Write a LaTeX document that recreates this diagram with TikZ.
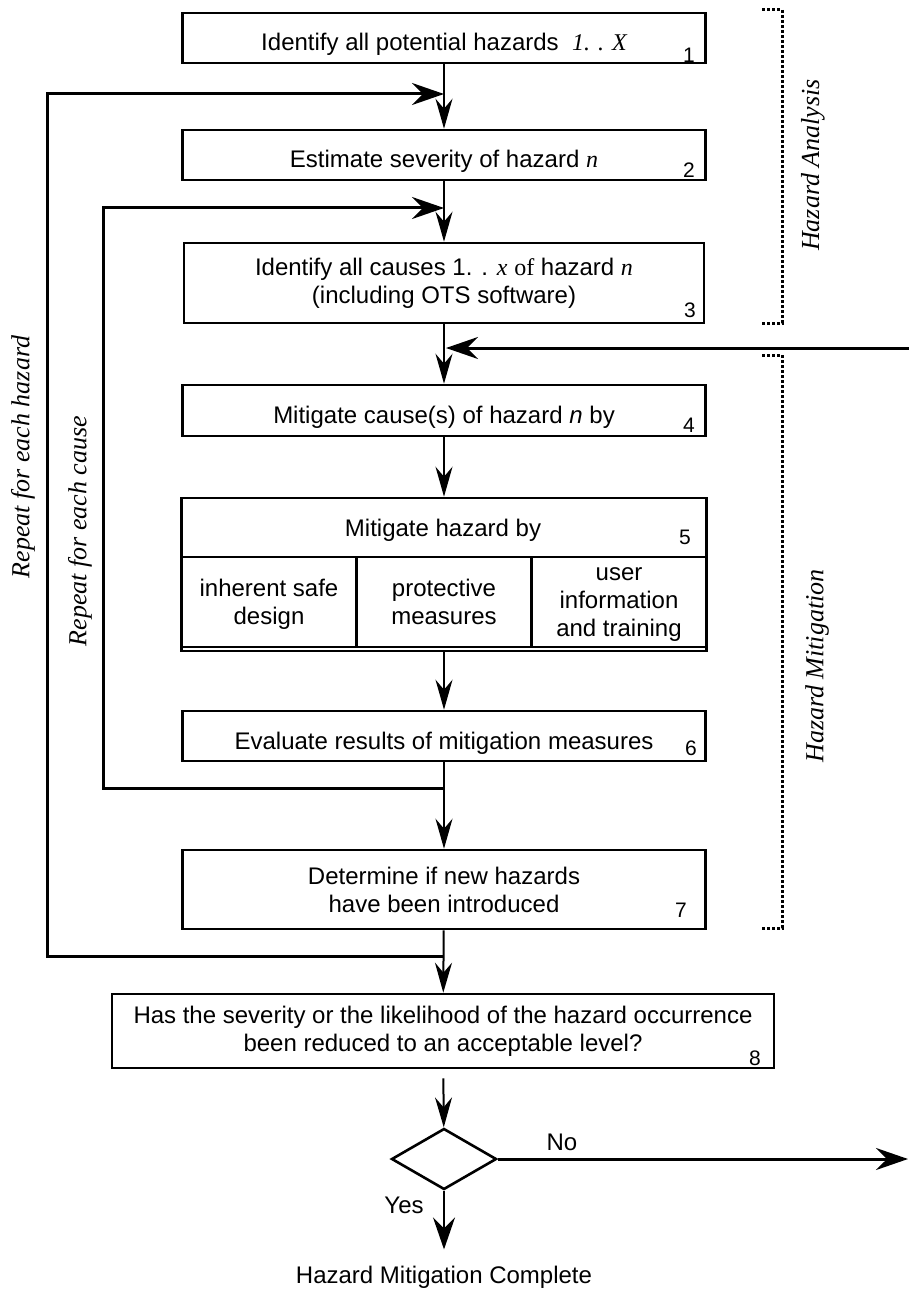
\documentclass[tikz,border=0pt]{standalone}
\usepackage{fontspec}
\setmainfont{Liberation Sans}
\newfontfamily\tmsfont{Liberation Serif}
\usetikzlibrary{arrows.meta, shapes.geometric}

\begin{document}
\begin{tikzpicture}[x=0.5pt,y=-0.5pt]
\tikzstyle{every node}+=[inner sep=0pt, font=\fontsize{12}{14}\selectfont]
\tikzstyle{stepbox}=[draw, line width=1.3pt, align=center, minimum width=261.5pt]
\tikzstyle{oneline}=[text height=13pt, text depth=0pt]
\tikzstyle{cell}=[draw, line width=1.3pt, align=center, text depth=-3pt, minimum width=87.5pt, minimum height=45pt]
\tikzstyle{num}=[font=\fontsize{10.5}{12}\selectfont]
\tikzstyle{flow}=[line width=1pt, -{Stealth[length=15pt,width=8.5pt,inset=5pt]}]
\tikzstyle{back}=[line width=1.5pt, -{Stealth[length=16pt,width=11pt,inset=5.5pt]}]
\tikzstyle{side}=[font=\tmsfont\itshape\fontsize{13}{15}\selectfont, rotate=90]
\tikzstyle{bracket}=[line width=1.5pt, dash pattern=on 1.5pt off 1pt]
\useasboundingbox (0,0) rectangle (909,1289);
\node[stepbox, oneline, minimum height=25pt] (b1) at (444,38) {Identify all potential hazards\ \ {\tmsfont\itshape 1. . X}};
\node[num] (n1) at (689,55) {1};
\node[stepbox, oneline, minimum height=25pt] (b2) at (444,155) {Estimate severity of hazard {\tmsfont\itshape n}};
\node[num] (n2) at (689,170) {2};
\node[stepbox, minimum height=40pt, minimum width=260pt] (b3) at (444,283) {Identify all causes 1. . {\tmsfont\itshape x} {\tmsfont of} hazard {\tmsfont\itshape n}\\(including OTS software)};
\node[num] (n3) at (690,310) {3};
\node[stepbox, oneline, minimum height=25.5pt] (b4) at (444,410.5) {Mitigate cause(s) of hazard \textit{n} by};
\node[num] (n4) at (689,425) {4};
\node[stepbox, minimum height=76.5pt, minimum width=262.5pt] (b5) at (444,574.5) {};
\coordinate (m5) at (444,557);
\draw[line width=1.3pt] (b5.west |- m5) -- (b5.east |- m5);
\node (h5) at (443,530) {Mitigate hazard by};
\node[num] (n5) at (685,537) {5};
\node[cell] (c1) at (269,602) {inherent safe\\design};
\node[cell] (c2) at (444,602) {protective\\measures};
\node[cell] (c3) at (619,602) {user\\information\\and training};
\node[stepbox, oneline, minimum height=25pt] (b6) at (444,736) {Evaluate results of mitigation measures};
\node[num] (n6) at (691,748) {6};
\node[stepbox, minimum height=39.5pt] (b7) at (444,889.5) {Determine if new hazards\\have been introduced};
\node[num] (n7) at (681,910) {7};
\node[stepbox, minimum height=37pt, minimum width=331pt] (b8) at (443,1031) {Has the severity or the likelihood of the hazard occurrence\\been reduced to an acceptable level?};
\node[num] (n8) at (755,1058) {8};
\node[draw, diamond, line width=1.3pt, minimum width=52.5pt, minimum height=30.5pt] (dia) at (444,1159) {};
\node (no) at (562,1142) {No};
\node (yes) at (404,1205) {Yes};
\node (done) at (444,1277) {Hazard Mitigation Complete};
\node[side] (rh) at (23,457) {Repeat for each hazard};
\node[side] (rc) at (80,531) {Repeat for each cause};
\node[side] (ha) at (813,165) {Hazard Analysis};
\node[side] (hm) at (817,666) {Hazard Mitigation};
\coordinate (j1) at (444,94);
\coordinate (j2) at (444,208);
\coordinate (j3) at (446,348);
\coordinate (j6) at (444,788);
\coordinate (j7) at (444,956);
\coordinate (l6) at (103,788);
\coordinate (l7) at (47,956);
\coordinate (rtop) at (909,348);
\coordinate (noend) at (908,1159);
\draw[flow] (b1) -- (b2);
\draw[flow] (b2) -- (b3);
\draw[flow] (b3) -- (b4);
\draw[flow] (b4) -- (b5);
\draw[flow] (b5) -- (b6);
\draw[flow] (b6) -- (b7);
\draw[flow] (b7) -- (b8);
\draw[flow, shorten <=4.5pt] (b8) -- (dia);
\draw[back, line width=1.2pt, shorten >=8pt] (dia) -- (done);
\draw[back] (dia) -- (noend);
\draw[back] (rtop) -- (j3);
\draw[back] (j7) -- (l7) |- (j1);
\draw[back] (j6) -- (l6) |- (j2);
\draw[bracket] (762,10) -- (782,10) -- (782,323) -- (762,323);
\draw[bracket] (762,355) -- (782,355) -- (782,928) -- (762,928);
\end{tikzpicture}
\end{document}
